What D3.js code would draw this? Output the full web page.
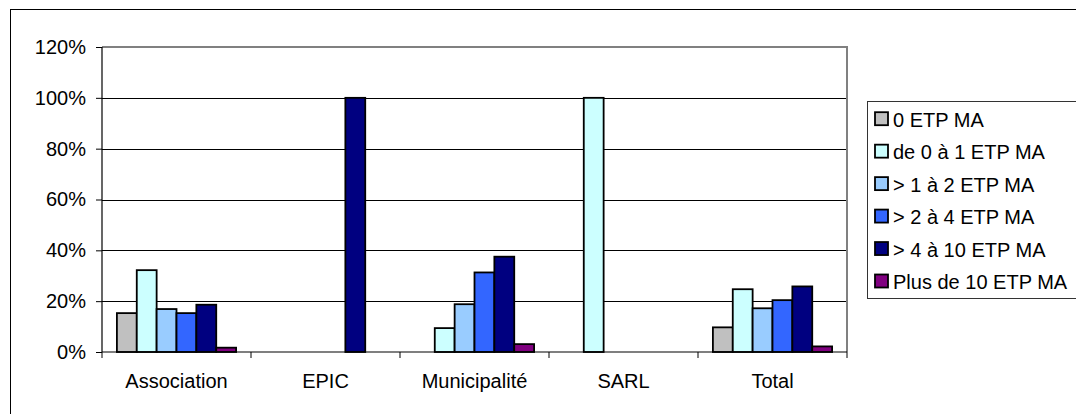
<!DOCTYPE html>
<html>
<head>
<meta charset="utf-8">
<script src="https://cdn.jsdelivr.net/npm/d3@7"></script>
<style>
  html, body { margin: 0; padding: 0; background: #ffffff; }
  svg { display: block; }
  text { font-family: "Liberation Sans", Arial, sans-serif; fill: #000; }
</style>
</head>
<body>
<svg id="chart" width="1076" height="414"></svg>
<script>
// Structures juridiques (catégories de l'axe X)
const categories = ["Association", "EPIC", "Municipalité", "SARL", "Total"];

// Tranches d'effectif (séries)
const seriesNames = [
  "0 ETP MA",
  "de 0 à 1 ETP MA",
  "> 1 à 2 ETP MA",
  "> 2 à 4 ETP MA",
  "> 4 à 10 ETP MA",
  "Plus de 10 ETP MA"
];

// Part de chaque tranche (%) par structure, dans l'ordre des catégories
const s0ETP      = [15.3, 0,   0,    0,   9.7];
const s0a1ETP    = [32.2, 0,   9.4,  100, 24.7];
const s1a2ETP    = [16.9, 0,   18.8, 0,   17.2];
const s2a4ETP    = [15.3, 0,   31.3, 0,   20.4];
const s4a10ETP   = [18.6, 100, 37.5, 0,   25.8];
const sPlus10ETP = [1.7,  0,   3.1,  0,   2.2];

const seriesValues = [s0ETP, s0a1ETP, s1a2ETP, s2a4ETP, s4a10ETP, sPlus10ETP];
const seriesColors = ["#C0C0C0", "#CCFFFF", "#99CCFF", "#3366FF", "#000080", "#800080"];

// Graduations de l'axe Y
const yTicks = [0, 20, 40, 60, 80, 100, 120];

const FONT = "20px";
const svg = d3.select("#chart");

// Cadre extérieur
svg.append("rect")
  .attr("x", 10.5).attr("y", 9.5)
  .attr("width", 1100).attr("height", 500)
  .attr("fill", "#fff").attr("stroke", "#000").attr("stroke-width", 1);

const plot = { left: 102, right: 847, top: 47, bottom: 352 };

const x = d3.scaleBand()
  .domain(categories)
  .range([plot.left, plot.right])
  .paddingInner(0).paddingOuter(0);

// Largeur des barres : intervalle de 150 % entre groupes
const barW = x.bandwidth() / 7.5;
const groupOffset = (x.bandwidth() - 6 * barW) / 2;

const y = d3.scaleLinear().domain([0, 120]).range([plot.bottom, plot.top]);

// Quadrillage horizontal
svg.append("g")
  .selectAll("line")
  .data(yTicks.filter(t => t > 0 && t < 120))
  .join("line")
  .attr("x1", plot.left).attr("x2", plot.right)
  .attr("y1", d => Math.round(y(d)) + 0.5).attr("y2", d => Math.round(y(d)) + 0.5)
  .attr("stroke", "#000").attr("stroke-width", 1);

// Bordure de la zone de tracé (haut et droite, gris)
svg.append("path")
  .attr("d", `M${plot.left},${plot.top} H${plot.right} V${plot.bottom}`)
  .attr("fill", "none").attr("stroke", "#808080").attr("stroke-width", 2);

// Barres
const groups = svg.append("g")
  .selectAll("g")
  .data(seriesNames)
  .join("g");

groups.each(function(name, si) {
  d3.select(this).selectAll("rect")
    .data(categories.map((c, ci) => ({ c, v: seriesValues[si][ci] })))
    .join("rect")
    .attr("x", d => x(d.c) + groupOffset + si * barW)
    .attr("y", d => y(d.v))
    .attr("width", barW)
    .attr("height", d => y(0) - y(d.v))
    .attr("fill", seriesColors[si])
    .attr("stroke", "#000")
    .attr("stroke-width", 1.8)
    .attr("display", d => d.v > 0 ? null : "none");
});

// Axe Y
const yAxis = d3.axisLeft(y)
  .tickValues(yTicks)
  .tickFormat(d => d + "%")
  .tickSize(6)
  .tickPadding(10);

const gy = svg.append("g")
  .attr("transform", `translate(${plot.left},0)`)
  .call(yAxis);
gy.select(".domain").attr("stroke", "#000").attr("stroke-width", 1.2)
  .attr("d", `M0,${plot.top}V${plot.bottom}`);
gy.selectAll(".tick line").attr("stroke", "#000");
gy.selectAll(".tick text")
  .attr("font-size", FONT)
  .style("font-family", "'Liberation Sans', Arial, sans-serif");

// Axe X
const xAxis = d3.axisBottom(x).tickSize(0).tickPadding(22);
const gx = svg.append("g")
  .attr("transform", `translate(0,${plot.bottom})`)
  .call(xAxis);
gx.select(".domain").attr("stroke", "#000").attr("stroke-width", 1.2)
  .attr("d", `M${plot.left},0H${plot.right}`);
gx.selectAll(".tick text")
  .attr("font-size", FONT)
  .style("font-family", "'Liberation Sans', Arial, sans-serif");

// Graduations de l'axe X aux limites des catégories
const bounds = categories.map(c => x(c)).concat([plot.right]);
svg.append("g")
  .selectAll("line")
  .data(bounds)
  .join("line")
  .attr("x1", d => d).attr("x2", d => d)
  .attr("y1", plot.bottom).attr("y2", plot.bottom + 6)
  .attr("stroke", "#000").attr("stroke-width", 1);

// Légende
const legend = svg.append("g");
legend.append("rect")
  .attr("x", 867.5).attr("y", 101.5)
  .attr("width", 300).attr("height", 197)
  .attr("fill", "#fff").attr("stroke", "#333").attr("stroke-width", 1);

const rowY = d3.scalePoint()
  .domain(seriesNames)
  .range([126.7, 289]);

const items = legend.selectAll("g.item")
  .data(seriesNames)
  .join("g").attr("class", "item");

items.append("rect")
  .attr("x", 875)
  .attr("y", d => rowY(d) - 14.5)
  .attr("width", 13).attr("height", 13)
  .attr("fill", (d, i) => seriesColors[i])
  .attr("stroke", "#000").attr("stroke-width", 1.8);

items.append("text")
  .attr("x", 893)
  .attr("y", d => rowY(d))
  .attr("font-size", FONT)
  .text(d => d);
</script>
</body>
</html>
